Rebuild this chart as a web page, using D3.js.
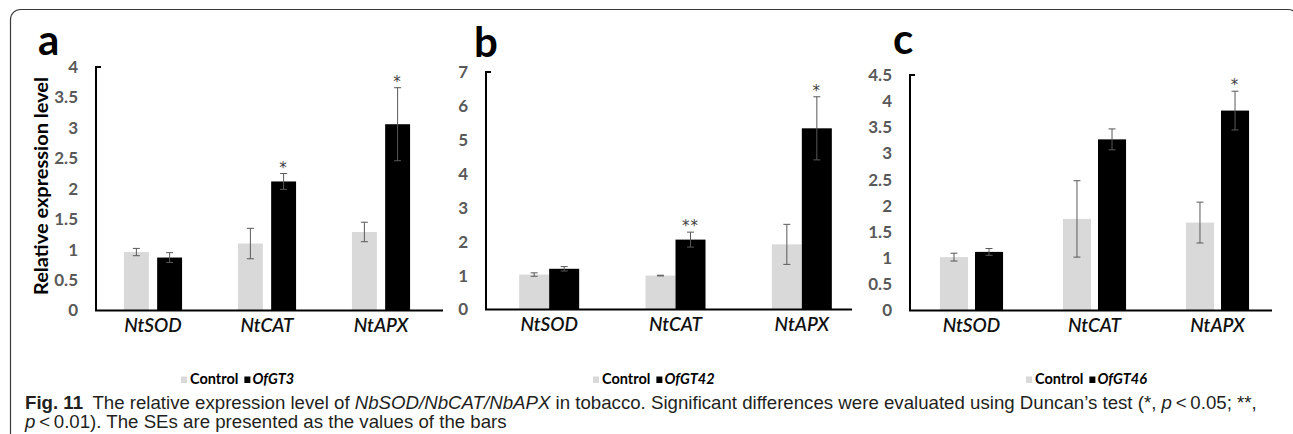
<!DOCTYPE html>
<html>
<head>
<meta charset="utf-8">
<script src="https://cdn.jsdelivr.net/npm/d3@7"></script>
<style>
  body { margin: 0; background: #fff; }
  svg { display: block; }
</style>
</head>
<body>
<div id="chart"></div>
<script>
// Data
const categories = ["NtSOD", "NtCAT", "NtAPX"];
const panelLetters = ["a", "b", "c"];
const transgenicLines = ["OfGT3", "OfGT42", "OfGT46"];
const controlMeans = [[0.96, 1.10, 1.29], [1.03, 1.00, 1.92], [1.02, 1.75, 1.68]];
const controlSE = [[0.06, 0.25, 0.16], [0.05, 0.01, 0.59], [0.075, 0.73, 0.39]];
const lineMeans = [[0.87, 2.12, 3.06], [1.20, 2.06, 5.34], [1.12, 3.27, 3.82]];
const lineSE = [[0.08, 0.13, 0.60], [0.065, 0.22, 0.93], [0.065, 0.20, 0.37]];
const significance = [["", "*", "*"], ["", "**", "*"], ["", "", "*"]];
const yTicksA = [0, 0.5, 1, 1.5, 2, 2.5, 3, 3.5, 4];
const yTicksB = [0, 1, 2, 3, 4, 5, 6, 7];
const yTicksC = [0, 0.5, 1, 1.5, 2, 2.5, 3, 3.5, 4, 4.5];
const yTicks = [yTicksA, yTicksB, yTicksC];

// Caption pieces: [text, style]
const captionLine1 = [
  ["Fig. 11", "bold"],
  ["\u2002The relative expression level of ", ""],
  ["NbSOD/NbCAT/NbAPX", "italic"],
  [" in tobacco. Significant differences were evaluated using Duncan\u2019s test (*, ", ""],
  ["p", "italic"],
  ["\u2009<\u20090.05; **,", ""]
];
const captionLine2 = [
  ["p", "italic"],
  ["\u2009<\u20090.01). The SEs are presented as the values of the bars", ""]
];

// Layout of each panel (pixels)
const layout = [
  { axisX: 96, axisEnd: 443, band: [96, 438], pad: 0.49, inner: 0.25, y0: 310.5, yTop: 67, letter: [38, 55], legendX: 181 },
  { axisX: 486, axisEnd: 852, band: [486, 865], pad: 0.525, inner: 0, y0: 309.5, yTop: 72, letter: [474, 57], legendX: 593 },
  { axisX: 910, axisEnd: 1272, band: [910, 1279], pad: 0.487, inner: 0.2, y0: 310.5, yTop: 75, letter: [893, 54], legendX: 1026 }
];

const colors = { control: "#d9d9d9", line: "#000000" };
const chartFont = "Lato, 'Open Sans', sans-serif";

const svg = d3.select("#chart")
  .append("svg")
  .attr("width", 1293)
  .attr("height", 434);

// Frame round the figure
svg.append("path")
  .attr("d", "M10.5,434 V19.5 A10,10 0 0 1 20.5,9.5 H1288 A10,10 0 0 1 1298,19.5 V434")
  .attr("fill", "none")
  .attr("stroke", "#3a3a3a")
  .attr("stroke-width", 1.2);

// Y axis title (only on panel a)
svg.append("text")
  .attr("transform", "translate(48,186) rotate(-90)")
  .attr("text-anchor", "middle")
  .attr("font-family", chartFont)
  .attr("font-weight", "bold")
  .attr("font-size", "18.5px")
  .attr("fill", "#000")
  .attr("textLength", 218)
  .attr("lengthAdjust", "spacingAndGlyphs")
  .text("Relative expression level");

layout.forEach((L, p) => {
  const g = svg.append("g").attr("class", "panel");

  const rows = categories.map((c, i) => ({
    cat: c,
    bars: [
      { key: "control", mean: controlMeans[p][i], se: controlSE[p][i] },
      { key: "line", mean: lineMeans[p][i], se: lineSE[p][i] }
    ],
    sig: significance[p][i]
  }));

  const x = d3.scaleBand()
    .domain(categories)
    .range(L.band)
    .paddingInner(L.pad)
    .paddingOuter(L.pad / 2);

  const xInner = d3.scaleBand()
    .domain(["control", "line"])
    .range([0, x.bandwidth()])
    .paddingInner(L.inner);

  const tks = yTicks[p];
  const y = d3.scaleLinear()
    .domain([0, tks[tks.length - 1]])
    .range([L.y0, L.yTop]);

  // Panel letter
  g.append("text")
    .attr("x", L.letter[0])
    .attr("y", L.letter[1])
    .attr("font-family", chartFont)
    .attr("font-weight", "bold")
    .attr("font-size", "42px")
    .attr("fill", "#000")
    .text(panelLetters[p]);

  // Bars
  const groups = g.selectAll("g.group")
    .data(rows)
    .enter()
    .append("g")
    .attr("class", "group")
    .attr("transform", d => `translate(${x(d.cat)},0)`);

  groups.selectAll("rect")
    .data(d => d.bars)
    .enter()
    .append("rect")
    .attr("x", d => xInner(d.key))
    .attr("width", xInner.bandwidth())
    .attr("y", d => y(d.mean))
    .attr("height", d => y(0) - y(d.mean))
    .attr("fill", d => colors[d.key]);

  // Error bars
  const err = groups.selectAll("g.err")
    .data(d => d.bars)
    .enter()
    .append("g")
    .attr("class", "err")
    .attr("stroke", "#595959")
    .attr("stroke-width", 1);

  err.append("line")
    .attr("x1", d => xInner(d.key) + xInner.bandwidth() / 2)
    .attr("x2", d => xInner(d.key) + xInner.bandwidth() / 2)
    .attr("y1", d => y(d.mean + d.se))
    .attr("y2", d => y(d.mean - d.se));

  [1, -1].forEach(s => {
    err.append("line")
      .attr("x1", d => xInner(d.key) + xInner.bandwidth() / 2 - 3.5)
      .attr("x2", d => xInner(d.key) + xInner.bandwidth() / 2 + 3.5)
      .attr("y1", d => y(d.mean + s * d.se))
      .attr("y2", d => y(d.mean + s * d.se));
  });

  // Significance stars above the transgenic bar
  groups.filter(d => d.sig !== "")
    .append("text")
    .attr("x", xInner("line") + xInner.bandwidth() / 2)
    .attr("y", d => y(d.bars[1].mean + d.bars[1].se) - 1)
    .attr("text-anchor", "middle")
    .attr("font-family", "'DejaVu Sans', sans-serif")
    .attr("font-size", "15px")
    .attr("fill", "#404040")
    .attr("letter-spacing", "1px")
    .text(d => d.sig);

  // Y axis
  const yAxis = g.append("g")
    .attr("transform", `translate(${L.axisX},0)`)
    .call(d3.axisLeft(y).tickValues(tks).tickSize(0).tickPadding(18).tickFormat(d3.format("")));
  yAxis.select(".domain").remove();
  yAxis.selectAll("text")
    .attr("font-family", chartFont)
    .style("font-weight", "bold")
    .attr("font-size", "17px")
    .attr("fill", "#595959");

  g.append("path")
    .attr("d", `M${L.axisX + 5},${L.yTop} H${L.axisX} V${L.y0} H${L.axisEnd}`)
    .attr("fill", "none")
    .attr("stroke", "#000")
    .attr("stroke-width", 2);

  // X axis labels
  const xAxis = g.append("g")
    .attr("transform", `translate(0,${L.y0})`)
    .call(d3.axisBottom(x).tickSize(0).tickPadding(8));
  xAxis.select(".domain").remove();
  xAxis.selectAll("text")
    .attr("font-family", chartFont)
    .attr("font-style", "italic")
    .attr("font-weight", "600")
    .attr("font-size", "19px")
    .attr("fill", "#111");

  // Legend
  const leg = g.append("g").attr("transform", `translate(${L.legendX},384)`);
  leg.append("rect")
    .attr("x", 0).attr("y", -7.5).attr("width", 6).attr("height", 6.5)
    .attr("fill", colors.control);
  const t1 = leg.append("text")
    .attr("x", 9)
    .attr("font-family", chartFont)
    .attr("font-weight", "bold")
    .attr("font-size", "14.5px")
    .attr("fill", "#000")
    .text("Control");
  const x2 = 9 + t1.node().getComputedTextLength() + 6;
  leg.append("rect")
    .attr("x", x2).attr("y", -7.5).attr("width", 6).attr("height", 6.5)
    .attr("fill", colors.line);
  leg.append("text")
    .attr("x", x2 + 8)
    .attr("font-family", chartFont)
    .attr("font-weight", "bold")
    .attr("font-style", "italic")
    .attr("font-size", "14.5px")
    .attr("fill", "#000")
    .text(transgenicLines[p]);
});

// Caption: each piece is its own text; font size chosen so line 1 spans the reference width
const baseSize = 16;
const cap = svg.append("g").attr("fill", "#231f20")
  .attr("font-family", "'Liberation Sans', Arial, sans-serif")
  .attr("font-size", baseSize + "px");

function drawPieces(pieces, yPos) {
  return pieces.map(([txt, style]) => {
    const t = cap.append("text")
      .attr("y", yPos)
      .attr("xml:space", "preserve")
      .style("white-space", "pre")
      .attr("font-weight", style === "bold" ? "bold" : "normal")
      .attr("font-style", style === "italic" ? "italic" : "normal")
      .text(txt);
    return t;
  });
}

const p1 = drawPieces(captionLine1, 409);
const p2 = drawPieces(captionLine2, 427.5);
const natural = d3.sum(p1, t => t.node().getComputedTextLength());
const fs = baseSize * 1232 / natural;
cap.attr("font-size", fs + "px");
[p1, p2].forEach(line => {
  let cx = 25;
  line.forEach(t => {
    t.attr("x", cx);
    cx += t.node().getComputedTextLength();
  });
});
</script>
</body>
</html>
